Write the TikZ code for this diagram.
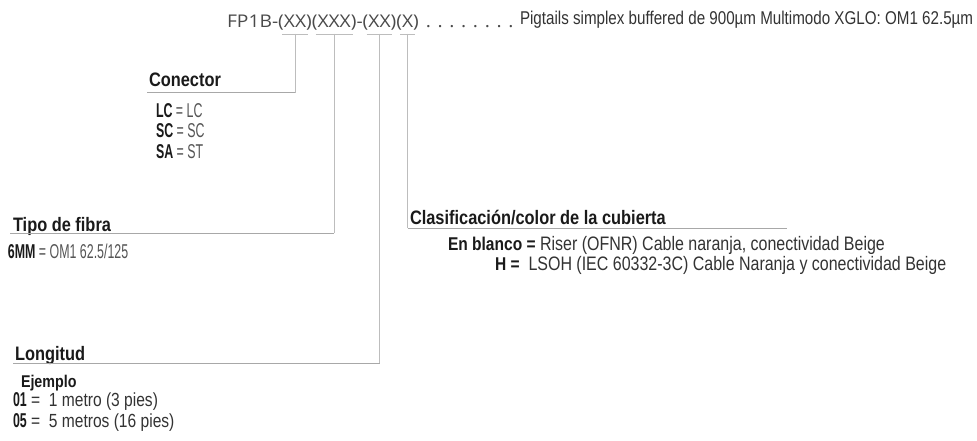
\documentclass[tikz,border=0pt]{standalone}
\usepackage{fontspec}
\setmainfont{Liberation Sans}
\newfontfamily\codefont[FakeStretch=1.1]{Open Sans}
\newfontfamily\narrowf[FakeStretch=0.82]{Liberation Sans}
\newfontfamily\headf[FakeStretch=0.84]{Liberation Sans}
\newfontfamily\ultraf[FakeStretch=0.62]{Liberation Sans}
\definecolor{txtdark}{HTML}{1A1A1A}
\definecolor{txtbody}{HTML}{333333}
\definecolor{txtlight}{HTML}{555555}
\definecolor{codegray}{HTML}{4A4A4A}
\definecolor{linegray}{HTML}{A8A8A8}
\definecolor{ticklight}{HTML}{BDBDBD}
\tikzset{
  txt/.style={inner sep=0pt, outer sep=0pt, anchor=base west},
  codetxt/.style={txt, text=codegray, font=\codefont\fontsize{17.5}{20}\selectfont},
  headtxt/.style={txt, text=txtdark, font=\headf\bfseries\fontsize{19.5}{22}\selectfont},
  bodytxt/.style={txt, text=txtbody, font=\narrowf\fontsize{19}{22}\selectfont},
  ultratxt/.style={txt, text=txtlight, font=\ultraf\fontsize{20}{23}\selectfont},
  conn/.style={draw=ticklight, line width=0.9pt},
  uline/.style={draw=linegray, line width=1pt},
  gline/.style={draw=ticklight, line width=0.9pt}
}
\begin{document}
\begin{tikzpicture}[x=1pt,y=-1pt]
\useasboundingbox[fill=white] (0,0) rectangle (977,441);
% code line
\node[codetxt] (p0) at (227,28) {FP1B-};
\node[codetxt] (g1) at (p0.base east) {(XX)};
\node[codetxt] (g2) at (g1.base east) {(XXX)};
\node[codetxt] (p1) at (g2.base east) {-};
\node[codetxt] (g3) at (p1.base east) {(XX)};
\node[codetxt] (g4) at (g3.base east) {(X)};
\node[codetxt] (dots) at ([xshift=7pt]g4.base east) {. . . . . . . .};
\node[bodytxt, font=\narrowf\fontsize{18.5}{21}\selectfont] (desc) at (520,25) {Pigtails simplex buffered de 900µm Multimodo XGLO: OM1 62.5µm};
\coordinate (ul) at (0,34);
% group underlines
\foreach \g in {g1,g2,g3,g4}{
  \draw[gline] ([xshift=4pt]\g.west |- ul) -- ([xshift=-4pt]\g.east |- ul);
}
% Conector
\node[headtxt] (hcon) at (149,87) {Conector};
\coordinate (conL) at (147,93);
\node[ultratxt] (lc) at (156,118) {\textcolor{txtdark}{\bfseries LC} = LC};
\node[ultratxt] (sc) at (156,138) {\textcolor{txtdark}{\bfseries SC} = SC};
\node[ultratxt] (sa) at (156,158) {\textcolor{txtdark}{\bfseries SA} = ST};
% Tipo de fibra
\node[headtxt] (htip) at (13,231) {Tipo de fibra};
\coordinate (tipL) at (10,233);
\node[ultratxt] (mm) at (8,258) {\textcolor{txtdark}{\bfseries 6MM} = OM1 62.5/125};
% Clasificacion
\node[headtxt] (hcla) at (410,224) {Clasificación/color de la cubierta};
\coordinate (claR) at (787,228);
\node[bodytxt, font=\narrowf\fontsize{19.5}{22}\selectfont] (eb) at (448,250) {\textcolor{txtdark}{\headf\bfseries\fontsize{18.5}{21}\selectfont En blanco =} Riser (OFNR) Cable naranja, conectividad Beige};
\node[bodytxt, font=\narrowf\fontsize{19.5}{22}\selectfont] (hh) at (495,270) {\textcolor{txtdark}{\headf\bfseries\fontsize{18.5}{21}\selectfont H =}\ \ LSOH (IEC 60332-3C) Cable Naranja y conectividad Beige};
% Longitud
\node[headtxt] (hlon) at (15,360) {Longitud};
\coordinate (lonL) at (13,363);
\node[headtxt, font=\headf\bfseries\fontsize{17}{20}\selectfont] (ej) at (21,387) {Ejemplo};
\node[bodytxt] (e1) at (13,406) {\textcolor{txtdark}{\ultraf\bfseries\fontsize{20}{23}\selectfont 01} = \ 1 metro (3 pies)};
\node[bodytxt] (e2) at (13,427) {\textcolor{txtdark}{\ultraf\bfseries\fontsize{20}{23}\selectfont 05} = \ 5 metros (16 pies)};
% connectors
\draw[conn] (g1.center |- ul) -- (g1.center |- conL);
\draw[uline] (g1.center |- conL) -- (conL);
\draw[conn] (g2.center |- ul) -- (g2.center |- tipL);
\draw[uline] (g2.center |- tipL) -- (tipL);
\draw[conn] (g3.center |- ul) -- (g3.center |- lonL);
\draw[uline] (g3.center |- lonL) -- (lonL);
\draw[conn] (g4.center |- ul) -- (g4.center |- claR);
\draw[uline] (g4.center |- claR) -- (claR);
\end{tikzpicture}
\end{document}
